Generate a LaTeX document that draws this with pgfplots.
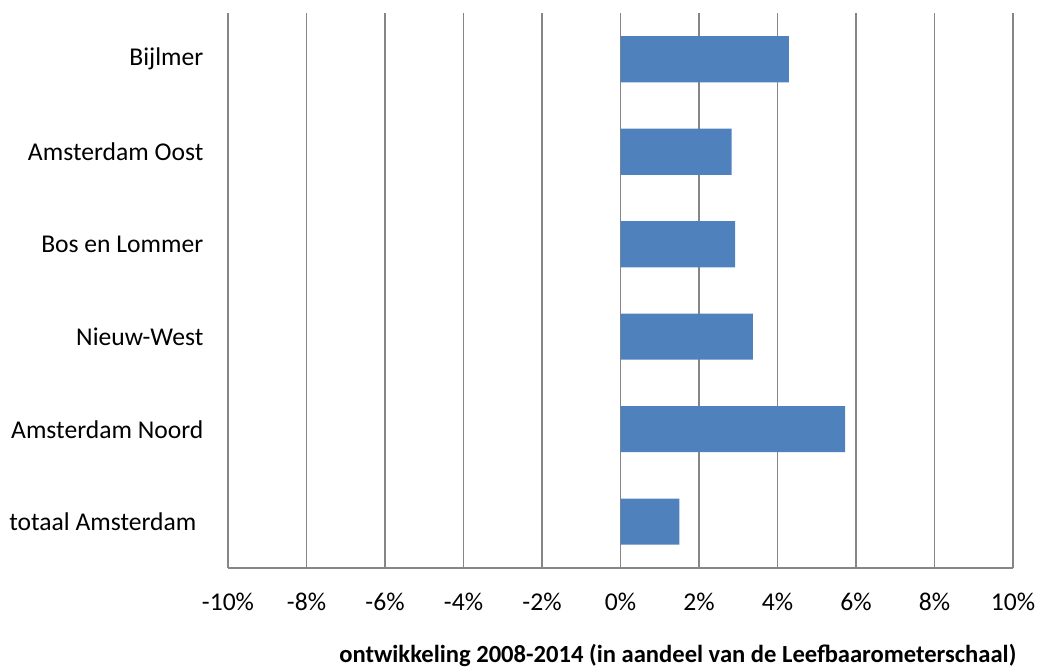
\documentclass[border=0pt]{standalone}
\usepackage{fontspec}
\setmainfont{Carlito}
\usepackage{pgfplots}
\pgfplotsset{compat=1.18}
\definecolor{barblue}{RGB}{79,129,189}
\definecolor{gridgray}{RGB}{134,134,134}
\begin{document}
\begin{tikzpicture}
\useasboundingbox (-228pt,-101pt) rectangle (811pt,568pt);
\begin{axis}[
  at={(0,0)}, anchor=south west,
  scale only axis,
  width=785pt, height=555pt,
  xbar,
  xmin=-10, xmax=10,
  ymin=-0.5, ymax=5.5,
  bar width=46pt,
  axis x line=bottom, axis y line=left,
  axis line style={gridgray, line width=1.3pt, -},
  xtick={-10,-8,...,10},
  xticklabels={-10\%,-8\%,-6\%,-4\%,-2\%,0\%,2\%,4\%,6\%,8\%,10\%},
  ytick={0,1,2,3,4,5},
  yticklabels={totaal Amsterdam\kern7pt,Amsterdam Noord,Nieuw-West,Bos en Lommer,Amsterdam Oost,Bijlmer},
  major tick length=0pt,
  xmajorgrids,
  grid style={gridgray, line width=1.3pt},
  /pgf/number format/assume math mode=true,
  tick label style={font=\fontsize{25.6}{30}\selectfont, inner sep=0pt},
  xticklabel style={anchor=north, yshift=-25pt},
  yticklabel style={anchor=east, xshift=-24.5pt},
  xlabel={ontwikkeling 2008-2014 (in aandeel van de Leefbaarometerschaal)},
  xlabel style={at={(axis description cs:0.573,0)}, anchor=base, yshift=-95pt, inner sep=0pt, font=\fontsize{24.6}{30}\selectfont\bfseries},
]
\addplot[fill=barblue, draw=none] coordinates {
  (1.50,0) (5.72,1) (3.37,2) (2.92,3) (2.83,4) (4.29,5)
};
\end{axis}
\end{tikzpicture}
\end{document}
